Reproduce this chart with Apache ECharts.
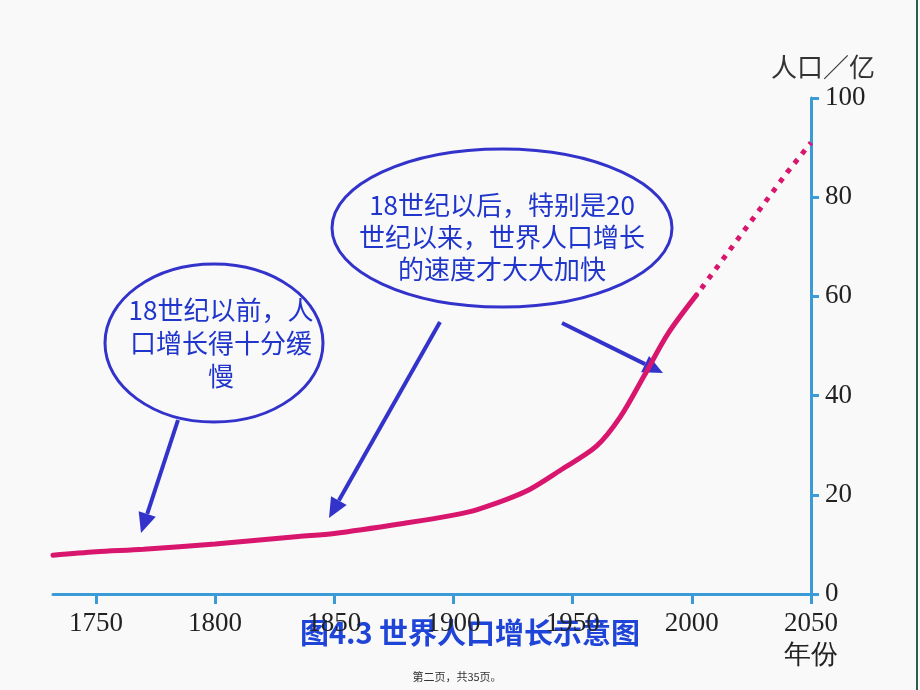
<!DOCTYPE html>
<html>
<head>
<meta charset="utf-8">
<script src="https://cdn.jsdelivr.net/npm/echarts@6/dist/echarts.min.js"></script>
<style>
html,body{margin:0;padding:0;background:#f9f9f9;}
#c{width:920px;height:690px;}
</style>
</head>
<body>
<div id="c"></div>
<script>
// ---- data ----
var solidYears  = [1732, 1750, 1770, 1800, 1835, 1850, 1880, 1900, 1910, 1930, 1945, 1960, 1970, 1980, 1990, 2002];
var solidValues = [7.8, 8.5, 9.0, 10.1, 11.6, 12.2, 14.3, 15.9, 17.0, 20.6, 25.0, 29.8, 35.7, 44.0, 52.5, 60.3];
var projYears   = [2002, 2010, 2020, 2030, 2040, 2050];
var projValues  = [60.3, 65.5, 72.0, 78.5, 85.0, 91.0];
var xTicks = [1750, 1800, 1850, 1900, 1950, 2000, 2050];
var yTicks = [0, 20, 40, 60, 80, 100];
var xMin = 1732, xMax = 2050;
var yName = '人口／亿';
var xName = '年份';
var title = '图4.3 世界人口增长示意图';
var note1 = '18世纪以前，人\n口增长得十分缓\n慢';
var note2 = '18世纪以后，特别是20\n世纪以来，世界人口增长\n的速度才大大加快';
var footer = '第二页，共35页。';

function pairs(xs, ys){ return xs.map(function(x,i){ return [x, ys[i]]; }); }

var chart = echarts.init(document.getElementById('c'));
var axisBlue = '#3a9bd6';
var annBlue = '#3333cc';
var serif = '"Liberation Serif", "DejaVu Serif", serif';
var cjk = '"Noto Sans CJK SC", sans-serif';

function arrow(x1, y1, x2, y2){
  var ang = Math.atan2(y2 - y1, x2 - x1);
  var L = 20, W = 9;
  var bx = x2 - L*Math.cos(ang), by = y2 - L*Math.sin(ang);
  var px = -Math.sin(ang), py = Math.cos(ang);
  return [
    {type:'line', shape:{x1:x1,y1:y1,x2:bx,y2:by}, style:{stroke:annBlue, lineWidth:4}},
    {type:'polygon', shape:{points:[[x2,y2],[bx+px*W,by+py*W],[bx-px*W,by-py*W]]}, style:{fill:annBlue}}
  ];
}

var graphics = [
  {type:'rect', shape:{x:916, y:0, width:2, height:690}, style:{fill:'#2e5d4f'}},
  {type:'ellipse', shape:{cx:214, cy:343, rx:109, ry:79}, style:{fill:null, stroke:annBlue, lineWidth:3}},
  {type:'ellipse', shape:{cx:502, cy:228, rx:170, ry:79}, style:{fill:null, stroke:annBlue, lineWidth:3}},
  {type:'text', x:221, y:343, style:{text:note1, font:'26px ' + cjk, fill:'#1f35cc', align:'center', verticalAlign:'middle', lineHeight:33}},
  {type:'text', x:502, y:237, style:{text:note2, font:'26px ' + cjk, fill:'#1f35cc', align:'center', verticalAlign:'middle', lineHeight:32}},
  {type:'text', x:470, y:633, style:{text:title, font:'bold 29px ' + cjk, fill:'#1f45d8', align:'center', verticalAlign:'middle'}},
  {type:'text', x:457, y:677, style:{text:footer, font:'11px ' + cjk, fill:'#333', align:'center', verticalAlign:'middle'}}
].concat(arrow(178,420,141,533)).concat(arrow(440,322,329,518)).concat(arrow(562,323,663,373));

chart.setOption({
  backgroundColor:'#f9f9f9',
  animation:false,
  grid:{left:53, right:109, top:98, bottom:96},
  xAxis:{
    type:'value', min:xMin, max:xMax,
    axisLine:{show:true, lineStyle:{color:axisBlue, width:3}},
    axisTick:{show:true, length:10, inside:false, lineStyle:{color:axisBlue, width:3}, customValues:xTicks},
    axisLabel:{color:'#222', fontFamily:serif, fontSize:27, margin:14, lineHeight:32, customValues:xTicks,
      formatter:function(v){ return v === 2050 ? v + '\n' + xName : String(v); }},
    splitLine:{show:false}
  },
  yAxis:{
    type:'value', position:'right', min:0, max:100, interval:20,
    name:yName, nameLocation:'end', nameGap:18,
    nameTextStyle:{color:'#333', fontFamily:cjk, fontSize:26, padding:[0,0,0,24]},
    axisLine:{show:true, lineStyle:{color:axisBlue, width:3}},
    axisTick:{show:true, length:8, inside:false, lineStyle:{color:axisBlue, width:3}},
    axisLabel:{color:'#222', fontFamily:serif, fontSize:27, margin:14,
      formatter:function(v){ return yTicks.indexOf(v) >= 0 ? String(v) : ''; }},
    splitLine:{show:false}
  },
  series:[
    {type:'line', data:pairs(solidYears, solidValues), smooth:0.3, showSymbol:false, symbol:'none',
     lineStyle:{color:'#d8166e', width:5, cap:'round'}},
    {type:'line', data:pairs(projYears, projValues), smooth:false, showSymbol:false, symbol:'none',
     lineStyle:{color:'#d8166e', width:5, type:[5,7], dashOffset:-8}}
  ],
  graphic:graphics
});
</script>
</body>
</html>
